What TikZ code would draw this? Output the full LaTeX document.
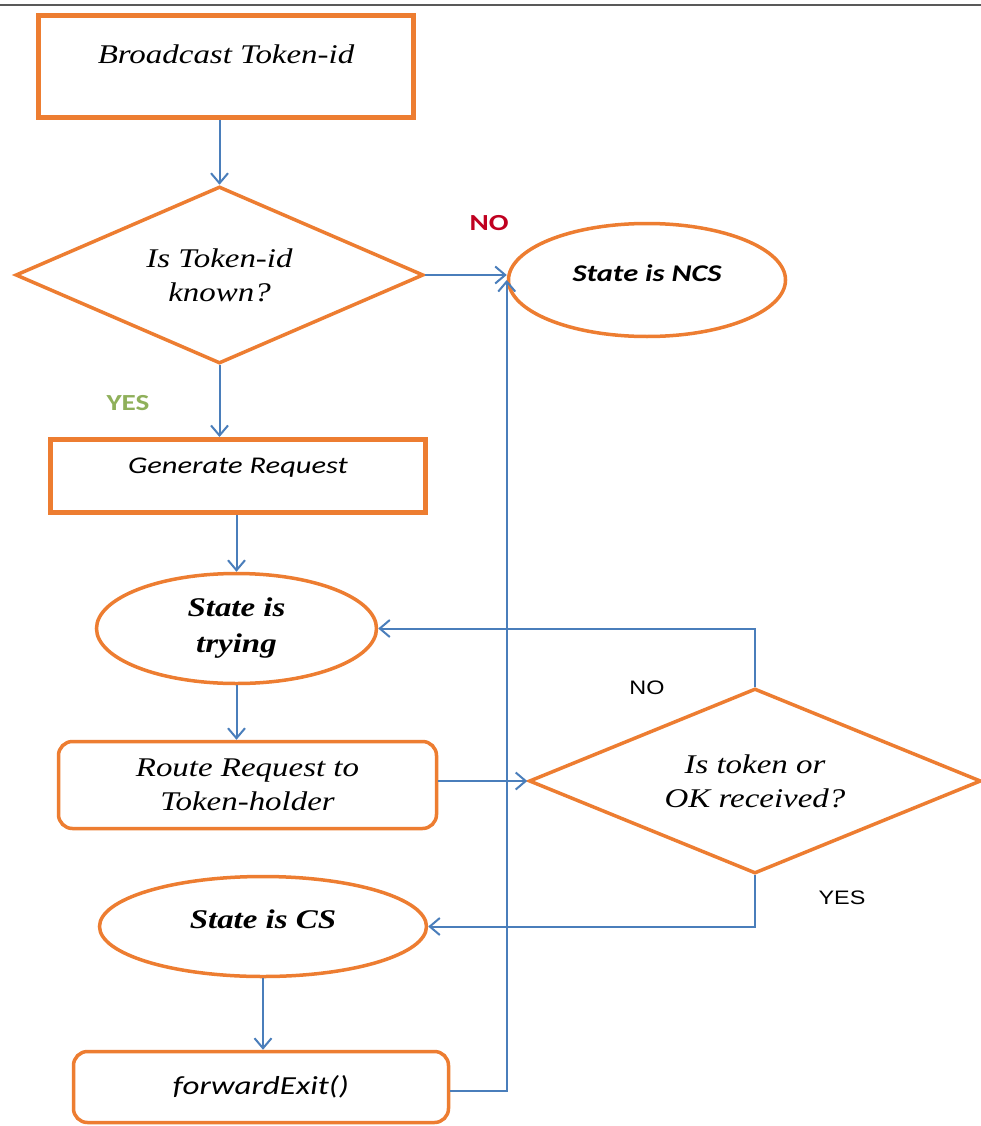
\documentclass[tikz,border=0pt]{standalone}
\usepackage{fontspec}
\usetikzlibrary{shapes.geometric,arrows.meta,calc}
\newfontfamily\tnrfont[FakeStretch=1.22]{Liberation Serif}
\newfontfamily\calfont[FakeStretch=1.27]{Carlito}
\newfontfamily\arifont[FakeStretch=1.2]{Liberation Sans}
\definecolor{org}{HTML}{ED7D31}
\definecolor{lnk}{HTML}{4A7EBB}
\definecolor{nored}{HTML}{C00020}
\definecolor{yesgreen}{HTML}{8FB05A}
\tikzset{
  thickbox/.style={draw=org, line width=5pt, rectangle, inner sep=0pt, fill=white},
  roundbox/.style={draw=org, line width=3.5pt, rectangle, rounded corners=14pt, inner sep=0pt, align=center, fill=white},
  oval/.style={draw=org, line width=3.5pt, ellipse, inner sep=0pt, align=center, fill=white},
  decision/.style={draw=org, line width=3.5pt, diamond, shape aspect=2.4, inner sep=0pt, align=center, fill=white},
  serifit/.style={font=\tnrfont\itshape\fontsize{27}{34}\selectfont},
  serifbi/.style={font=\tnrfont\bfseries\itshape\fontsize{27}{36}\selectfont},
  calit/.style={font=\calfont\itshape\fontsize{24}{30}\selectfont},
  calbi/.style={font=\calfont\bfseries\itshape\fontsize{24}{30}\selectfont},
  link/.style={draw=lnk, line width=2pt, -{Straight Barb[length=10pt,width=17pt,line width=2pt]}},
}
\begin{document}
\begin{tikzpicture}[x=1pt,y=-1pt]
\useasboundingbox[fill=white] (0,0) rectangle (981,1126);
\draw[line width=2pt, black!65] (0,5) -- (981,5);

% nodes
\node[thickbox, serifit, minimum width=375pt, text height=48.5pt, text depth=53.5pt] (b1) at (226,66.5) {Broadcast Token-id};
\node[decision, serifit, minimum width=408pt, minimum height=177pt] (d1) at (219.5,275) {Is Token-id\\known?};
\node[oval, calbi, minimum width=277pt, minimum height=113pt] (ncs) at (647,280) {\raisebox{14pt}{State is NCS}};
\node[thickbox, calit, minimum width=375pt, text height=33.5pt, text depth=39.5pt] (gen) at (238,476) {Generate Request};
\node[oval, serifbi, minimum width=280pt, minimum height=110pt] (try) at (236.5,628.5) {State is\\trying};
\node[roundbox, serifit, minimum width=378pt, minimum height=87pt] (route) at (247.5,785) {Route Request to\\Token-holder};
\node[decision, serifit, minimum width=452pt, minimum height=185pt] (d2) at (755,781) {Is token or\\OK received?};
\node[oval, serifbi, minimum width=327pt, minimum height=100pt] (cs) at (263,926.5) {\raisebox{14pt}{State is CS}};
\node[roundbox, font=\calfont\itshape\fontsize{26}{30}\selectfont, minimum width=375pt, minimum height=71pt] (fx) at (261,1087) {\raisebox{5pt}{forwardExit()}};

% labels
\node[font=\calfont\bfseries\fontsize{23}{26}\selectfont, text=nored] (lno1) at (489,223) {NO};
\node[font=\calfont\bfseries\fontsize{23}{26}\selectfont, text=yesgreen] (lyes1) at (128,403) {YES};
\node[font=\arifont\fontsize{19.5}{22}\selectfont] (lno2) at (647,688) {NO};
\node[font=\arifont\fontsize{19.5}{22}\selectfont] (lyes2) at (842,898) {YES};

% connectors
\draw[link] (b1.south -| d1.north) -- (d1.north);
\draw[link] (d1.east) -- (d1.east -| ncs.west);
\draw[link] (d1.south) -- (d1.south |- gen.north);
\draw[link] (gen.south -| try.north) -- (try.north);
\draw[link] (try.south) -- (try.south |- route.north);
\draw[link] (d2.west -| route.east) -- (d2.west);
\draw[link] (d2.north) |- (try.east);
\draw[link] (d2.south) |- (cs.east);
\draw[link] (cs.south) -- (cs.south |- fx.north);
\draw[link] ([yshift=-4pt]fx.east) -| (ncs.west);
\end{tikzpicture}
\end{document}
